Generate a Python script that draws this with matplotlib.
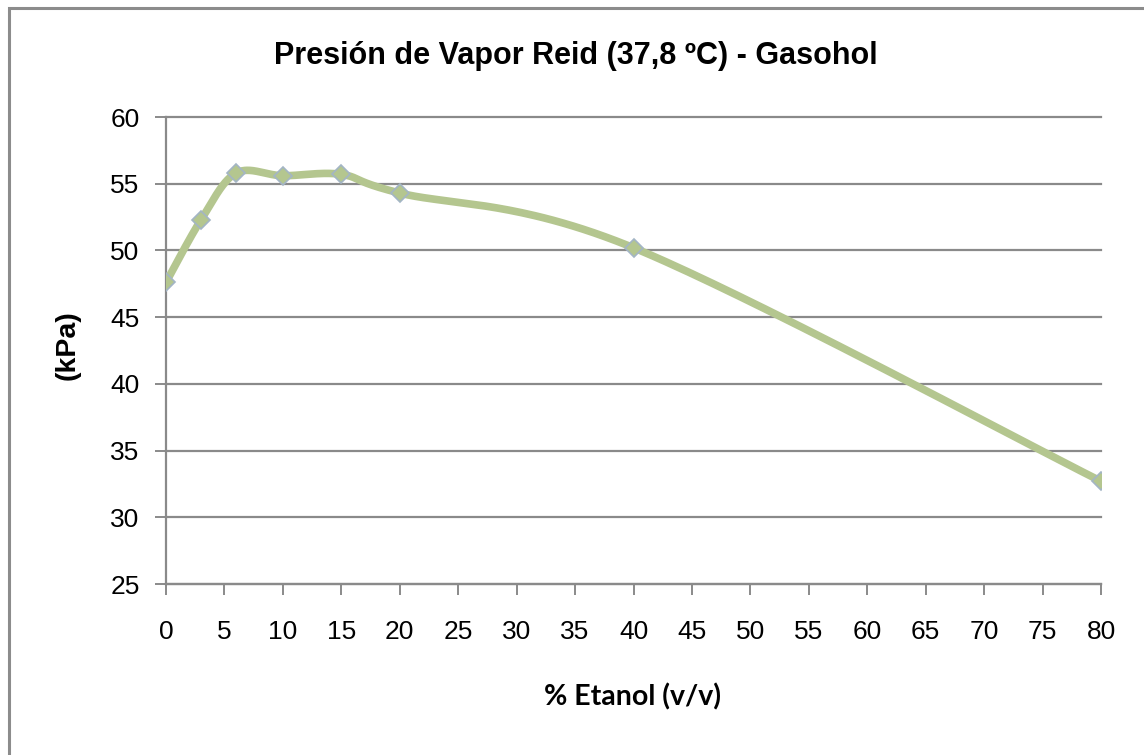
import numpy as np
import matplotlib
matplotlib.use("Agg")
import matplotlib.pyplot as plt
from matplotlib.patches import Rectangle

# Data
etanol = [0, 3, 6, 10, 15, 20, 40, 80]
presion = [47.6, 52.3, 55.8, 55.6, 55.7, 54.3, 50.2, 32.7]
x_ticks = list(range(0, 85, 5))
y_ticks = list(range(25, 65, 5))

title = "Presión de Vapor Reid (37,8 ºC) - Gasohol"
xlabel = "% Etanol (v/v)"
ylabel = "(kPa)"


def excel_smooth(xs, ys, n=60):
    # Catmull-Rom style Bezier smoothing (as used by spreadsheet "smoothed line")
    P = np.column_stack([xs, ys]).astype(float)
    pts = []
    m = len(P)
    for i in range(m - 1):
        p0 = P[i - 1] if i > 0 else P[i]
        p1 = P[i]
        p2 = P[i + 1]
        p3 = P[i + 2] if i + 2 < m else P[i + 1]
        c1 = p1 + (p2 - p0) / 6.0
        c2 = p2 - (p3 - p1) / 6.0
        t = np.linspace(0, 1, n)[:, None]
        seg = ((1 - t) ** 3) * p1 + 3 * ((1 - t) ** 2) * t * c1 + 3 * (1 - t) * t ** 2 * c2 + t ** 3 * p2
        pts.append(seg if i == 0 else seg[1:])
    arr = np.vstack(pts)
    return arr[:, 0], arr[:, 1]


fig = plt.figure(figsize=(11.44, 7.55), dpi=100)
fig.patch.set_facecolor("white")

# outer chart border (right/bottom run off the image)
fig.add_artist(Rectangle((9 / 1144, -0.05), 1.2, (755 - 8) / 755 + 0.05,
                         transform=fig.transFigure, fill=False,
                         edgecolor="#8c8c8c", linewidth=2.2))

ax = fig.add_axes([166 / 1144, (755 - 584) / 755, (1101 - 166) / 1144, (584 - 117) / 755])

sx, sy = excel_smooth(etanol, presion)
green = "#b4c68f"
ax.plot(sx, sy, color=green, linewidth=5.5, solid_capstyle="round", zorder=3)
ax.plot(etanol, presion, linestyle="none", marker="D", markersize=9,
        markerfacecolor=green, markeredgecolor="#a3b5c5", markeredgewidth=1.2, zorder=4)

ax.set_xlim(0, 80)
ax.set_ylim(25, 60)
ax.set_xticks(x_ticks)
ax.set_yticks(y_ticks)
ax.set_xticklabels([str(v) for v in x_ticks])
ax.set_yticklabels([str(v) for v in y_ticks])

ax.yaxis.grid(True, color="#8a8a8a", linewidth=1.6)
ax.set_axisbelow(True)
for s in ["top", "right"]:
    ax.spines[s].set_visible(False)
for s in ["left", "bottom"]:
    ax.spines[s].set_color("#8a8a8a")
    ax.spines[s].set_linewidth(1.6)

ax.tick_params(axis="both", which="major", direction="out", length=8, width=1.4,
               color="#8a8a8a", labelsize=19)
for lab in ax.get_xticklabels() + ax.get_yticklabels():
    lab.set_family(["Liberation Sans", "DejaVu Sans"])
    lab.set_color("black")
ax.tick_params(axis="x", pad=18)
ax.tick_params(axis="y", pad=11)

for gl in ax.get_ygridlines():
    gl.set_clip_on(False)

fig.text(576 / 1144, 1 - 56 / 755, title, ha="center", va="center",
         fontsize=22, fontweight="bold",
         family=["Liberation Sans Narrow", "Liberation Sans", "DejaVu Sans"])
fig.text(633 / 1144, 1 - 697 / 755, xlabel, ha="center", va="center",
         fontsize=20.5, fontweight="bold", family=["Lato", "DejaVu Sans"])
fig.text(68 / 1144, 1 - 345 / 755, ylabel, ha="center", va="center", rotation=90,
         fontsize=20.5, fontweight="bold", family=["Liberation Sans", "DejaVu Sans"])

fig.savefig("out.png", dpi=100, facecolor="white")
